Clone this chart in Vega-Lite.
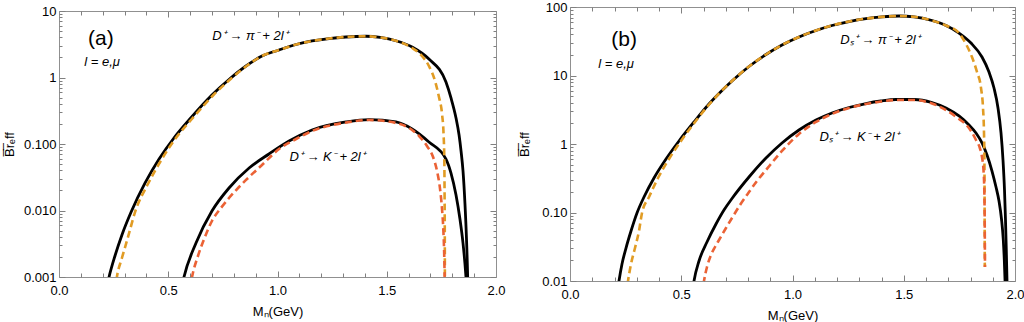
{
  "$schema": "https://vega.github.io/schema/vega-lite/v6.json",
  "autosize": {"type": "pad"},
  "padding": {"left": 3, "top": 1, "right": 0, "bottom": 0},
  "background": "white",
  "config": {
    "view": {"stroke": null},
    "axis": {"grid": false, "domainColor": "#909090", "tickColor": "#808080", "tickWidth": 1, "labelColor": "#000000", "labelFont": "Liberation Sans", "labelFontSize": 13, "titleFont": "Liberation Sans", "titleFontSize": 13, "titleFontWeight": "normal", "titleColor": "#000000", "labelFlush": false, "labelOverlap": false},
    "text": {"font": "Liberation Sans", "color": "#000000"}
  },
  "datasets": {
    "curves": [
      {"p":"a","c":"pi","k":"full","m":0.215,"b":0.000617},{"p":"a","c":"pi","k":"full","m":0.229,"b":0.001},{"p":"a","c":"pi","k":"full","m":0.256,"b":0.00207},{"p":"a","c":"pi","k":"full","m":0.288,"b":0.00429},{"p":"a","c":"pi","k":"full","m":0.330,"b":0.00948},{"p":"a","c":"pi","k":"full","m":0.394,"b":0.02594},{"p":"a","c":"pi","k":"full","m":0.458,"b":0.0594},{"p":"a","c":"pi","k":"full","m":0.526,"b":0.123},{"p":"a","c":"pi","k":"full","m":0.595,"b":0.2296},{"p":"a","c":"pi","k":"full","m":0.700,"b":0.546},{"p":"a","c":"pi","k":"full","m":0.778,"b":0.933},{"p":"a","c":"pi","k":"full","m":0.856,"b":1.489},{"p":"a","c":"pi","k":"full","m":0.929,"b":2.104},{"p":"a","c":"pi","k":"full","m":1.007,"b":2.594},{"p":"a","c":"pi","k":"full","m":1.085,"b":3.133},{"p":"a","c":"pi","k":"full","m":1.158,"b":3.54},{"p":"a","c":"pi","k":"full","m":1.236,"b":3.855},{"p":"a","c":"pi","k":"full","m":1.313,"b":4.064},{"p":"a","c":"pi","k":"full","m":1.405,"b":4.169},{"p":"a","c":"pi","k":"full","m":1.470,"b":4.0},{"p":"a","c":"pi","k":"full","m":1.542,"b":3.573},{"p":"a","c":"pi","k":"full","m":1.616,"b":2.877},{"p":"a","c":"pi","k":"full","m":1.693,"b":1.897},{"p":"a","c":"pi","k":"full","m":1.771,"b":0.855},{"p":"a","c":"pi","k":"full","m":1.794,"b":0.492},{"p":"a","c":"pi","k":"full","m":1.817,"b":0.246},{"p":"a","c":"pi","k":"full","m":1.831,"b":0.1365},{"p":"a","c":"pi","k":"full","m":1.840,"b":0.0785},{"p":"a","c":"pi","k":"full","m":1.849,"b":0.0393},{"p":"a","c":"pi","k":"full","m":1.858,"b":0.01253},{"p":"a","c":"pi","k":"full","m":1.865,"b":0.00372},{"p":"a","c":"pi","k":"full","m":1.870,"b":0.00111},{"p":"a","c":"pi","k":"full","m":1.872,"b":0.000555},
      {"p":"a","c":"K","k":"full","m":0.558,"b":0.000617},{"p":"a","c":"K","k":"full","m":0.572,"b":0.001},{"p":"a","c":"K","k":"full","m":0.627,"b":0.00324},{"p":"a","c":"K","k":"full","m":0.700,"b":0.00982},{"p":"a","c":"K","k":"full","m":0.778,"b":0.0218},{"p":"a","c":"K","k":"full","m":0.870,"b":0.0436},{"p":"a","c":"K","k":"full","m":0.961,"b":0.0708},{"p":"a","c":"K","k":"full","m":1.053,"b":0.111},{"p":"a","c":"K","k":"full","m":1.158,"b":0.1626},{"p":"a","c":"K","k":"full","m":1.314,"b":0.2143},{"p":"a","c":"K","k":"full","m":1.419,"b":0.2333},{"p":"a","c":"K","k":"full","m":1.542,"b":0.2143},{"p":"a","c":"K","k":"full","m":1.616,"b":0.1683},{"p":"a","c":"K","k":"full","m":1.693,"b":0.1072},{"p":"a","c":"K","k":"full","m":1.771,"b":0.0594},{"p":"a","c":"K","k":"full","m":1.794,"b":0.0366},{"p":"a","c":"K","k":"full","m":1.817,"b":0.0171},{"p":"a","c":"K","k":"full","m":1.835,"b":0.00745},{"p":"a","c":"K","k":"full","m":1.849,"b":0.00324},{"p":"a","c":"K","k":"full","m":1.858,"b":0.00157},{"p":"a","c":"K","k":"full","m":1.865,"b":0.000785},
      {"p":"a","c":"pi","k":"approx","m":0.256,"b":0.000617},{"p":"a","c":"pi","k":"approx","m":0.265,"b":0.001},{"p":"a","c":"pi","k":"approx","m":0.288,"b":0.00193},{"p":"a","c":"pi","k":"approx","m":0.316,"b":0.004},{"p":"a","c":"pi","k":"approx","m":0.348,"b":0.00948},{"p":"a","c":"pi","k":"approx","m":0.407,"b":0.025},{"p":"a","c":"pi","k":"approx","m":0.471,"b":0.0594},{"p":"a","c":"pi","k":"approx","m":0.535,"b":0.123},{"p":"a","c":"pi","k":"approx","m":0.604,"b":0.2296},{"p":"a","c":"pi","k":"approx","m":0.707,"b":0.546},{"p":"a","c":"pi","k":"approx","m":0.783,"b":0.933},{"p":"a","c":"pi","k":"approx","m":0.858,"b":1.489},{"p":"a","c":"pi","k":"approx","m":0.929,"b":2.104},{"p":"a","c":"pi","k":"approx","m":1.007,"b":2.594},{"p":"a","c":"pi","k":"approx","m":1.085,"b":3.133},{"p":"a","c":"pi","k":"approx","m":1.158,"b":3.54},{"p":"a","c":"pi","k":"approx","m":1.236,"b":3.855},{"p":"a","c":"pi","k":"approx","m":1.313,"b":4.064},{"p":"a","c":"pi","k":"approx","m":1.405,"b":4.169},{"p":"a","c":"pi","k":"approx","m":1.470,"b":4.0},{"p":"a","c":"pi","k":"approx","m":1.542,"b":3.573},{"p":"a","c":"pi","k":"approx","m":1.616,"b":2.78},{"p":"a","c":"pi","k":"approx","m":1.657,"b":2.18},{"p":"a","c":"pi","k":"approx","m":1.693,"b":1.489},{"p":"a","c":"pi","k":"approx","m":1.721,"b":0.885},{"p":"a","c":"pi","k":"approx","m":1.739,"b":0.509},{"p":"a","c":"pi","k":"approx","m":1.753,"b":0.2826},{"p":"a","c":"pi","k":"approx","m":1.760,"b":0.1413},{"p":"a","c":"pi","k":"approx","m":1.7634,"b":0.0594},{"p":"a","c":"pi","k":"approx","m":1.7648,"b":0.0149},{"p":"a","c":"pi","k":"approx","m":1.7657,"b":0.00372},{"p":"a","c":"pi","k":"approx","m":1.7661,"b":0.00066},
      {"p":"a","c":"K","k":"approx","m":0.5995,"b":0.00066},{"p":"a","c":"K","k":"approx","m":0.609,"b":0.001},{"p":"a","c":"K","k":"approx","m":0.636,"b":0.00207},{"p":"a","c":"K","k":"approx","m":0.668,"b":0.004},{"p":"a","c":"K","k":"approx","m":0.700,"b":0.00695},{"p":"a","c":"K","k":"approx","m":0.741,"b":0.0109},{"p":"a","c":"K","k":"approx","m":0.778,"b":0.0154},{"p":"a","c":"K","k":"approx","m":0.856,"b":0.0288},{"p":"a","c":"K","k":"approx","m":0.929,"b":0.0483},{"p":"a","c":"K","k":"approx","m":1.007,"b":0.0841},{"p":"a","c":"K","k":"approx","m":1.085,"b":0.1189},{"p":"a","c":"K","k":"approx","m":1.158,"b":0.1567},{"p":"a","c":"K","k":"approx","m":1.314,"b":0.2104},{"p":"a","c":"K","k":"approx","m":1.419,"b":0.2296},{"p":"a","c":"K","k":"approx","m":1.542,"b":0.207},{"p":"a","c":"K","k":"approx","m":1.616,"b":0.1626},{"p":"a","c":"K","k":"approx","m":1.648,"b":0.1318},{"p":"a","c":"K","k":"approx","m":1.684,"b":0.0933},{"p":"a","c":"K","k":"approx","m":1.712,"b":0.0638},{"p":"a","c":"K","k":"approx","m":1.730,"b":0.0393},{"p":"a","c":"K","k":"approx","m":1.744,"b":0.021},{"p":"a","c":"K","k":"approx","m":1.753,"b":0.0105},{"p":"a","c":"K","k":"approx","m":1.7588,"b":0.00527},{"p":"a","c":"K","k":"approx","m":1.7629,"b":0.00222},{"p":"a","c":"K","k":"approx","m":1.7652,"b":0.00093},
      {"p":"b","c":"pi","k":"full","m":0.2112,"b":0.00625},{"p":"b","c":"pi","k":"full","m":0.2202,"b":0.01},{"p":"b","c":"pi","k":"full","m":0.2337,"b":0.0177},{"p":"b","c":"pi","k":"full","m":0.2517,"b":0.0303},{"p":"b","c":"pi","k":"full","m":0.2742,"b":0.0537},{"p":"b","c":"pi","k":"full","m":0.3011,"b":0.0984},{"p":"b","c":"pi","k":"full","m":0.3326,"b":0.1683},{"p":"b","c":"pi","k":"full","m":0.3775,"b":0.319},{"p":"b","c":"pi","k":"full","m":0.4315,"b":0.604},{"p":"b","c":"pi","k":"full","m":0.4899,"b":1.107},{"p":"b","c":"pi","k":"full","m":0.5573,"b":2.096},{"p":"b","c":"pi","k":"full","m":0.6247,"b":3.837},{"p":"b","c":"pi","k":"full","m":0.6787,"b":5.84},{"p":"b","c":"pi","k":"full","m":0.7281,"b":8.31},{"p":"b","c":"pi","k":"full","m":0.8045,"b":13.53},{"p":"b","c":"pi","k":"full","m":0.8809,"b":20.26},{"p":"b","c":"pi","k":"full","m":0.9528,"b":27.9},{"p":"b","c":"pi","k":"full","m":1.0292,"b":36.5},{"p":"b","c":"pi","k":"full","m":1.1056,"b":45.4},{"p":"b","c":"pi","k":"full","m":1.1775,"b":53.7},{"p":"b","c":"pi","k":"full","m":1.2539,"b":61.4},{"p":"b","c":"pi","k":"full","m":1.3303,"b":67.7},{"p":"b","c":"pi","k":"full","m":1.4022,"b":71.7},{"p":"b","c":"pi","k":"full","m":1.4787,"b":73.9},{"p":"b","c":"pi","k":"full","m":1.5461,"b":72.0},{"p":"b","c":"pi","k":"full","m":1.627,"b":63.5},{"p":"b","c":"pi","k":"full","m":1.6899,"b":53.7},{"p":"b","c":"pi","k":"full","m":1.7483,"b":41.7},{"p":"b","c":"pi","k":"full","m":1.8022,"b":29.8},{"p":"b","c":"pi","k":"full","m":1.8517,"b":18.6},{"p":"b","c":"pi","k":"full","m":1.8831,"b":11.25},{"p":"b","c":"pi","k":"full","m":1.9056,"b":6.57},{"p":"b","c":"pi","k":"full","m":1.9236,"b":3.36},{"p":"b","c":"pi","k":"full","m":1.9371,"b":1.449},{"p":"b","c":"pi","k":"full","m":1.9461,"b":0.583},{"p":"b","c":"pi","k":"full","m":1.9528,"b":0.213},{"p":"b","c":"pi","k":"full","m":1.9573,"b":0.0778},{"p":"b","c":"pi","k":"full","m":1.9609,"b":0.0284},{"p":"b","c":"pi","k":"full","m":1.964,"b":0.01035},{"p":"b","c":"pi","k":"full","m":1.9663,"b":0.00528},
      {"p":"b","c":"K","k":"full","m":0.5483,"b":0.00625},{"p":"b","c":"K","k":"full","m":0.5573,"b":0.01},{"p":"b","c":"K","k":"full","m":0.5798,"b":0.01959},{"p":"b","c":"K","k":"full","m":0.6157,"b":0.03707},{"p":"b","c":"K","k":"full","m":0.6562,"b":0.0679},{"p":"b","c":"K","k":"full","m":0.6921,"b":0.1087},{"p":"b","c":"K","k":"full","m":0.7281,"b":0.16},{"p":"b","c":"K","k":"full","m":0.8045,"b":0.3296},{"p":"b","c":"K","k":"full","m":0.8809,"b":0.625},{"p":"b","c":"K","k":"full","m":0.9528,"b":1.035},{"p":"b","c":"K","k":"full","m":1.0292,"b":1.601},{"p":"b","c":"K","k":"full","m":1.1056,"b":2.239},{"p":"b","c":"K","k":"full","m":1.1775,"b":2.836},{"p":"b","c":"K","k":"full","m":1.2539,"b":3.41},{"p":"b","c":"K","k":"full","m":1.3303,"b":3.9},{"p":"b","c":"K","k":"full","m":1.3978,"b":4.245},{"p":"b","c":"K","k":"full","m":1.4652,"b":4.466},{"p":"b","c":"K","k":"full","m":1.5461,"b":4.466},{"p":"b","c":"K","k":"full","m":1.627,"b":4.036},{"p":"b","c":"K","k":"full","m":1.6899,"b":3.36},{"p":"b","c":"K","k":"full","m":1.7483,"b":2.566},{"p":"b","c":"K","k":"full","m":1.7933,"b":1.893},{"p":"b","c":"K","k":"full","m":1.8247,"b":1.449},{"p":"b","c":"K","k":"full","m":1.8517,"b":1.035},{"p":"b","c":"K","k":"full","m":1.8742,"b":0.69},{"p":"b","c":"K","k":"full","m":1.8966,"b":0.4034},{"p":"b","c":"K","k":"full","m":1.9146,"b":0.2357},{"p":"b","c":"K","k":"full","m":1.9281,"b":0.1471},{"p":"b","c":"K","k":"full","m":1.9393,"b":0.0804},{"p":"b","c":"K","k":"full","m":1.9474,"b":0.0397},{"p":"b","c":"K","k":"full","m":1.9519,"b":0.0203},{"p":"b","c":"K","k":"full","m":1.9551,"b":0.01035},{"p":"b","c":"K","k":"full","m":1.9569,"b":0.00625},
      {"p":"b","c":"pi","k":"approx","m":0.2517,"b":0.00625},{"p":"b","c":"pi","k":"approx","m":0.2607,"b":0.01},{"p":"b","c":"pi","k":"approx","m":0.2742,"b":0.0177},{"p":"b","c":"pi","k":"approx","m":0.2921,"b":0.0303},{"p":"b","c":"pi","k":"approx","m":0.3101,"b":0.0537},{"p":"b","c":"pi","k":"approx","m":0.3236,"b":0.0984},{"p":"b","c":"pi","k":"approx","m":0.3551,"b":0.1683},{"p":"b","c":"pi","k":"approx","m":0.3955,"b":0.319},{"p":"b","c":"pi","k":"approx","m":0.4449,"b":0.604},{"p":"b","c":"pi","k":"approx","m":0.4989,"b":1.107},{"p":"b","c":"pi","k":"approx","m":0.5618,"b":2.096},{"p":"b","c":"pi","k":"approx","m":0.627,"b":3.837},{"p":"b","c":"pi","k":"approx","m":0.6787,"b":5.84},{"p":"b","c":"pi","k":"approx","m":0.7281,"b":8.31},{"p":"b","c":"pi","k":"approx","m":0.8045,"b":13.53},{"p":"b","c":"pi","k":"approx","m":0.8809,"b":20.26},{"p":"b","c":"pi","k":"approx","m":0.9528,"b":27.9},{"p":"b","c":"pi","k":"approx","m":1.0292,"b":36.5},{"p":"b","c":"pi","k":"approx","m":1.1056,"b":45.4},{"p":"b","c":"pi","k":"approx","m":1.1775,"b":53.7},{"p":"b","c":"pi","k":"approx","m":1.2539,"b":61.4},{"p":"b","c":"pi","k":"approx","m":1.3303,"b":67.7},{"p":"b","c":"pi","k":"approx","m":1.4022,"b":71.7},{"p":"b","c":"pi","k":"approx","m":1.4787,"b":73.9},{"p":"b","c":"pi","k":"approx","m":1.5461,"b":72.0},{"p":"b","c":"pi","k":"approx","m":1.627,"b":63.5},{"p":"b","c":"pi","k":"approx","m":1.6899,"b":53.7},{"p":"b","c":"pi","k":"approx","m":1.7483,"b":41.7},{"p":"b","c":"pi","k":"approx","m":1.7798,"b":28.8},{"p":"b","c":"pi","k":"approx","m":1.8067,"b":18.6},{"p":"b","c":"pi","k":"approx","m":1.8292,"b":11.25},{"p":"b","c":"pi","k":"approx","m":1.8472,"b":6.57},{"p":"b","c":"pi","k":"approx","m":1.8562,"b":3.36},{"p":"b","c":"pi","k":"approx","m":1.8607,"b":1.449},{"p":"b","c":"pi","k":"approx","m":1.8625,"b":0.583},{"p":"b","c":"pi","k":"approx","m":1.8634,"b":0.152},{"p":"b","c":"pi","k":"approx","m":1.8638,"b":0.0397},{"p":"b","c":"pi","k":"approx","m":1.8643,"b":0.016},
      {"p":"b","c":"K","k":"approx","m":0.5933,"b":0.00625},{"p":"b","c":"K","k":"approx","m":0.6022,"b":0.01},{"p":"b","c":"K","k":"approx","m":0.6157,"b":0.016},{"p":"b","c":"K","k":"approx","m":0.6337,"b":0.02399},{"p":"b","c":"K","k":"approx","m":0.6517,"b":0.03136},{"p":"b","c":"K","k":"approx","m":0.6697,"b":0.0397},{"p":"b","c":"K","k":"approx","m":0.7011,"b":0.0594},{"p":"b","c":"K","k":"approx","m":0.7281,"b":0.0832},{"p":"b","c":"K","k":"approx","m":0.764,"b":0.1286},{"p":"b","c":"K","k":"approx","m":0.8045,"b":0.199},{"p":"b","c":"K","k":"approx","m":0.8404,"b":0.2884},{"p":"b","c":"K","k":"approx","m":0.8809,"b":0.417},{"p":"b","c":"K","k":"approx","m":0.9528,"b":0.791},{"p":"b","c":"K","k":"approx","m":1.0292,"b":1.4},{"p":"b","c":"K","k":"approx","m":1.1056,"b":2.096},{"p":"b","c":"K","k":"approx","m":1.1775,"b":2.742},{"p":"b","c":"K","k":"approx","m":1.2539,"b":3.36},{"p":"b","c":"K","k":"approx","m":1.3303,"b":3.837},{"p":"b","c":"K","k":"approx","m":1.3978,"b":4.17},{"p":"b","c":"K","k":"approx","m":1.4652,"b":4.385},{"p":"b","c":"K","k":"approx","m":1.5461,"b":4.385},{"p":"b","c":"K","k":"approx","m":1.627,"b":3.9},{"p":"b","c":"K","k":"approx","m":1.6899,"b":3.13},{"p":"b","c":"K","k":"approx","m":1.7483,"b":2.316},{"p":"b","c":"K","k":"approx","m":1.7798,"b":1.927},{"p":"b","c":"K","k":"approx","m":1.8022,"b":1.549},{"p":"b","c":"K","k":"approx","m":1.8247,"b":1.143},{"p":"b","c":"K","k":"approx","m":1.8427,"b":0.859},{"p":"b","c":"K","k":"approx","m":1.8517,"b":0.646},{"p":"b","c":"K","k":"approx","m":1.8584,"b":0.417},{"p":"b","c":"K","k":"approx","m":1.862,"b":0.213},{"p":"b","c":"K","k":"approx","m":1.8638,"b":0.0778},{"p":"b","c":"K","k":"approx","m":1.8647,"b":0.0284},{"p":"b","c":"K","k":"approx","m":1.8652,"b":0.016}
    ],
    "labels": [
      {"p":"a","t":"(a)","m":0.192,"b":3.79},
      {"p":"a","t":"l = e,μ","m":0.197,"b":1.71},
      {"p":"a","t":"D⁺ → π⁻ + 2l⁺","m":0.874,"b":4.2},
      {"p":"a","t":"D⁺ → K⁻ + 2l⁺","m":1.227,"b":0.0638},
      {"p":"b","t":"(b)","m":0.243,"b":33},
      {"p":"b","t":"l = e,μ","m":0.207,"b":14.7},
      {"p":"b","t":"Dₛ⁺ → π⁻ + 2l⁺","m":1.393,"b":33},
      {"p":"b","t":"Dₛ⁺ → K⁻ + 2l⁺","m":1.299,"b":1.26}
    ]
  },
  "hconcat": [
    {
      "width": 437, "height": 266,
      "layer": [
        {"data": {"name": "curves"}, "transform": [{"filter": "datum.p == 'a' && datum.k == 'full'"}],
         "mark": {"type": "line", "color": "#000000", "strokeWidth": 2.8, "interpolate": "monotone", "clip": true},
         "encoding": {
           "x": {"field": "m", "type": "quantitative", "scale": {"domain": [0, 2], "nice": false, "zero": false},
                 "axis": {"orient": "bottom", "values": [0, 0.5, 1, 1.5, 2], "format": ".1f", "tickSize": -6, "labelPadding": 13, "title": "Mₙ(GeV)", "titlePadding": 8}},
           "y": {"field": "b", "type": "quantitative", "scale": {"type": "log", "domain": [0.001, 10], "nice": false},
                 "axis": {"orient": "left", "values": [0.001, 0.01, 0.1, 1, 10], "labelExpr": "datum.value == 0.001 ? '0.001' : datum.value == 0.01 ? '0.010' : datum.value == 0.1 ? '0.100' : datum.value == 1 ? '1' : '10'", "tickSize": -6, "labelPadding": 9, "title": "B̅r̅ₑff", "titlePadding": 7}},
           "detail": {"field": "c", "type": "nominal"}
         }},
        {"data": {"name": "curves"}, "transform": [{"filter": "datum.p == 'a' && datum.k == 'approx'"}],
         "mark": {"type": "line", "strokeWidth": 2.6, "strokeDash": [7, 4], "interpolate": "monotone", "clip": true},
         "encoding": {
           "x": {"field": "m", "type": "quantitative", "scale": {"domain": [0, 2], "nice": false, "zero": false},
                 "axis": {"orient": "bottom", "values": [0.1,0.2,0.3,0.4,0.6,0.7,0.8,0.9,1.1,1.2,1.3,1.4,1.6,1.7,1.8,1.9], "labels": false, "title": null, "domain": false, "tickSize": -4}},
           "y": {"field": "b", "type": "quantitative", "scale": {"type": "log", "domain": [0.001, 10], "nice": false},
                 "axis": {"orient": "left", "values": [0.002,0.003,0.004,0.005,0.006,0.007,0.008,0.009,0.02,0.03,0.04,0.05,0.06,0.07,0.08,0.09,0.2,0.3,0.4,0.5,0.6,0.7,0.8,0.9,2,3,4,5,6,7,8,9], "labels": false, "title": null, "domain": false, "tickSize": -3}},
           "color": {"field": "c", "type": "nominal", "scale": {"domain": ["pi", "K"], "range": ["#E19C24", "#EB6235"]}, "legend": null}
         }},
        {"data": {"name": "labels"}, "transform": [{"filter": "datum.p == 'a' && datum.t == '(a)'"}],
         "mark": {"type": "text", "fontSize": 21, "align": "center", "baseline": "middle"},
         "encoding": {
           "x": {"field": "m", "type": "quantitative", "scale": {"domain": [0, 2], "nice": false, "zero": false},
                 "axis": {"orient": "top", "values": [0, 0.5, 1, 1.5, 2], "labels": false, "title": null, "tickSize": -6}},
           "y": {"field": "b", "type": "quantitative", "scale": {"type": "log", "domain": [0.001, 10], "nice": false},
                 "axis": {"orient": "right", "values": [0.001, 0.01, 0.1, 1, 10], "labels": false, "title": null, "tickSize": -6}},
           "text": {"field": "t", "type": "nominal"}
         }},
        {"data": {"name": "labels"}, "transform": [{"filter": "datum.p == 'a' && datum.t != '(a)'"}],
         "mark": {"type": "text", "fontSize": 13, "fontStyle": "italic", "align": "center", "baseline": "middle"},
         "encoding": {
           "x": {"field": "m", "type": "quantitative", "scale": {"domain": [0, 2], "nice": false, "zero": false},
                 "axis": {"orient": "top", "values": [0.1,0.2,0.3,0.4,0.6,0.7,0.8,0.9,1.1,1.2,1.3,1.4,1.6,1.7,1.8,1.9], "labels": false, "title": null, "domain": false, "tickSize": -4}},
           "y": {"field": "b", "type": "quantitative", "scale": {"type": "log", "domain": [0.001, 10], "nice": false},
                 "axis": {"orient": "right", "values": [0.002,0.003,0.004,0.005,0.006,0.007,0.008,0.009,0.02,0.03,0.04,0.05,0.06,0.07,0.08,0.09,0.2,0.3,0.4,0.5,0.6,0.7,0.8,0.9,2,3,4,5,6,7,8,9], "labels": false, "title": null, "domain": false, "tickSize": -3}},
           "text": {"field": "t", "type": "nominal"}
         }}
      ],
      "resolve": {"axis": {"x": "independent", "y": "independent"}}
    },
    {
      "width": 445, "height": 274,
      "layer": [
        {"data": {"name": "curves"}, "transform": [{"filter": "datum.p == 'b' && datum.k == 'full'"}],
         "mark": {"type": "line", "color": "#000000", "strokeWidth": 2.8, "interpolate": "monotone", "clip": true},
         "encoding": {
           "x": {"field": "m", "type": "quantitative", "scale": {"domain": [0, 2], "nice": false, "zero": false},
                 "axis": {"orient": "bottom", "values": [0, 0.5, 1, 1.5, 2], "format": ".1f", "tickSize": -6, "labelPadding": 13, "title": "Mₙ(GeV)", "titlePadding": 8}},
           "y": {"field": "b", "type": "quantitative", "scale": {"type": "log", "domain": [0.01, 100], "nice": false},
                 "axis": {"orient": "left", "values": [0.01, 0.1, 1, 10, 100], "labelExpr": "datum.value == 0.01 ? '0.01' : datum.value == 0.1 ? '0.10' : datum.value == 1 ? '1' : datum.value == 10 ? '10' : '100'", "tickSize": -6, "labelPadding": 9, "title": "B̅r̅ₑff", "titlePadding": 10}},
           "detail": {"field": "c", "type": "nominal"}
         }},
        {"data": {"name": "curves"}, "transform": [{"filter": "datum.p == 'b' && datum.k == 'approx'"}],
         "mark": {"type": "line", "strokeWidth": 2.6, "strokeDash": [7, 4], "interpolate": "monotone", "clip": true},
         "encoding": {
           "x": {"field": "m", "type": "quantitative", "scale": {"domain": [0, 2], "nice": false, "zero": false},
                 "axis": {"orient": "bottom", "values": [0.1,0.2,0.3,0.4,0.6,0.7,0.8,0.9,1.1,1.2,1.3,1.4,1.6,1.7,1.8,1.9], "labels": false, "title": null, "domain": false, "tickSize": -4}},
           "y": {"field": "b", "type": "quantitative", "scale": {"type": "log", "domain": [0.01, 100], "nice": false},
                 "axis": {"orient": "left", "values": [0.02,0.03,0.04,0.05,0.06,0.07,0.08,0.09,0.2,0.3,0.4,0.5,0.6,0.7,0.8,0.9,2,3,4,5,6,7,8,9,20,30,40,50,60,70,80,90], "labels": false, "title": null, "domain": false, "tickSize": -3}},
           "color": {"field": "c", "type": "nominal", "scale": {"domain": ["pi", "K"], "range": ["#E19C24", "#EB6235"]}, "legend": null}
         }},
        {"data": {"name": "labels"}, "transform": [{"filter": "datum.p == 'b' && datum.t == '(b)'"}],
         "mark": {"type": "text", "fontSize": 21, "align": "center", "baseline": "middle"},
         "encoding": {
           "x": {"field": "m", "type": "quantitative", "scale": {"domain": [0, 2], "nice": false, "zero": false},
                 "axis": {"orient": "top", "values": [0, 0.5, 1, 1.5, 2], "labels": false, "title": null, "tickSize": -6}},
           "y": {"field": "b", "type": "quantitative", "scale": {"type": "log", "domain": [0.01, 100], "nice": false},
                 "axis": {"orient": "right", "values": [0.01, 0.1, 1, 10, 100], "labels": false, "title": null, "tickSize": -6}},
           "text": {"field": "t", "type": "nominal"}
         }},
        {"data": {"name": "labels"}, "transform": [{"filter": "datum.p == 'b' && datum.t != '(b)'"}],
         "mark": {"type": "text", "fontSize": 13, "fontStyle": "italic", "align": "center", "baseline": "middle"},
         "encoding": {
           "x": {"field": "m", "type": "quantitative", "scale": {"domain": [0, 2], "nice": false, "zero": false},
                 "axis": {"orient": "top", "values": [0.1,0.2,0.3,0.4,0.6,0.7,0.8,0.9,1.1,1.2,1.3,1.4,1.6,1.7,1.8,1.9], "labels": false, "title": null, "domain": false, "tickSize": -4}},
           "y": {"field": "b", "type": "quantitative", "scale": {"type": "log", "domain": [0.01, 100], "nice": false},
                 "axis": {"orient": "right", "values": [0.02,0.03,0.04,0.05,0.06,0.07,0.08,0.09,0.2,0.3,0.4,0.5,0.6,0.7,0.8,0.9,2,3,4,5,6,7,8,9,20,30,40,50,60,70,80,90], "labels": false, "title": null, "domain": false, "tickSize": -3}},
           "text": {"field": "t", "type": "nominal"}
         }}
      ],
      "resolve": {"axis": {"x": "independent", "y": "independent"}}
    }
  ],
  "spacing": 74,
  "bounds": "flush",
  "center": true
}
